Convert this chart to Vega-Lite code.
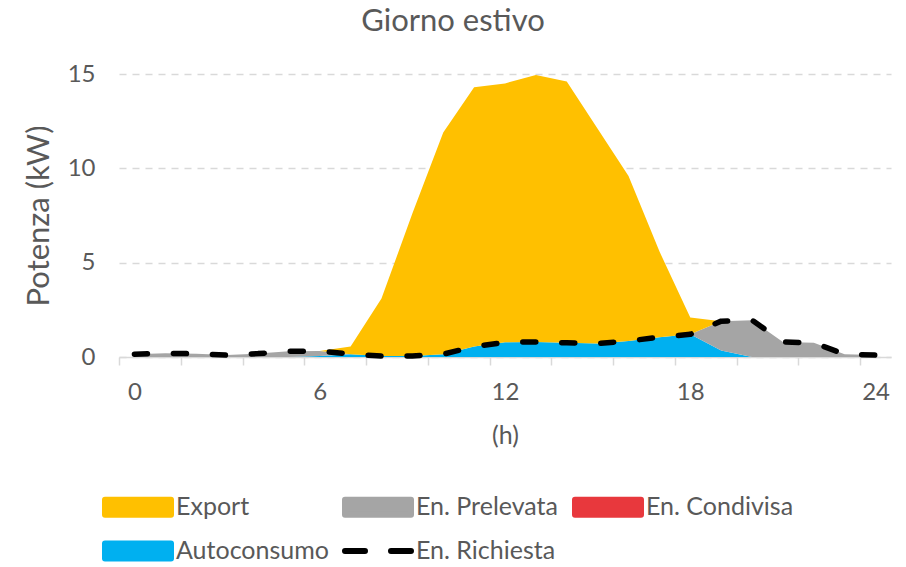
{
  "$schema": "https://vega.github.io/schema/vega-lite/v6.json",
  "width": 772,
  "height": 283,
  "autosize": {"type": "none"},
  "padding": {"left": 119, "top": 74, "right": 15, "bottom": 210},
  "background": "white",
  "title": {
    "text": "Giorno estivo",
    "font": "Lato",
    "fontSize": 31,
    "fontWeight": "normal",
    "color": "#595959",
    "anchor": "middle",
    "frame": "group",
    "dx": -52,
    "offset": 24
  },
  "config": {"view": {"stroke": null}},
  "datasets": {
    "aree": [
      {"ora": 0, "serie": "Autoconsumo", "kW": 0}, {"ora": 0, "serie": "En. Condivisa", "kW": 0}, {"ora": 0, "serie": "En. Prelevata", "kW": 0.15}, {"ora": 0, "serie": "Export", "kW": 0},
      {"ora": 1, "serie": "Autoconsumo", "kW": 0}, {"ora": 1, "serie": "En. Condivisa", "kW": 0}, {"ora": 1, "serie": "En. Prelevata", "kW": 0.2}, {"ora": 1, "serie": "Export", "kW": 0},
      {"ora": 2, "serie": "Autoconsumo", "kW": 0}, {"ora": 2, "serie": "En. Condivisa", "kW": 0}, {"ora": 2, "serie": "En. Prelevata", "kW": 0.17}, {"ora": 2, "serie": "Export", "kW": 0},
      {"ora": 3, "serie": "Autoconsumo", "kW": 0}, {"ora": 3, "serie": "En. Condivisa", "kW": 0}, {"ora": 3, "serie": "En. Prelevata", "kW": 0.1}, {"ora": 3, "serie": "Export", "kW": 0},
      {"ora": 4, "serie": "Autoconsumo", "kW": 0}, {"ora": 4, "serie": "En. Condivisa", "kW": 0}, {"ora": 4, "serie": "En. Prelevata", "kW": 0.18}, {"ora": 4, "serie": "Export", "kW": 0},
      {"ora": 5, "serie": "Autoconsumo", "kW": 0}, {"ora": 5, "serie": "En. Condivisa", "kW": 0}, {"ora": 5, "serie": "En. Prelevata", "kW": 0.3}, {"ora": 5, "serie": "Export", "kW": 0},
      {"ora": 6, "serie": "Autoconsumo", "kW": 0.05}, {"ora": 6, "serie": "En. Condivisa", "kW": 0}, {"ora": 6, "serie": "En. Prelevata", "kW": 0.27}, {"ora": 6, "serie": "Export", "kW": 0},
      {"ora": 7, "serie": "Autoconsumo", "kW": 0.15}, {"ora": 7, "serie": "En. Condivisa", "kW": 0}, {"ora": 7, "serie": "En. Prelevata", "kW": 0}, {"ora": 7, "serie": "Export", "kW": 0.4},
      {"ora": 8, "serie": "Autoconsumo", "kW": 0.05}, {"ora": 8, "serie": "En. Condivisa", "kW": 0}, {"ora": 8, "serie": "En. Prelevata", "kW": 0}, {"ora": 8, "serie": "Export", "kW": 3.05},
      {"ora": 9, "serie": "Autoconsumo", "kW": 0.05}, {"ora": 9, "serie": "En. Condivisa", "kW": 0}, {"ora": 9, "serie": "En. Prelevata", "kW": 0}, {"ora": 9, "serie": "Export", "kW": 7.55},
      {"ora": 10, "serie": "Autoconsumo", "kW": 0.15}, {"ora": 10, "serie": "En. Condivisa", "kW": 0}, {"ora": 10, "serie": "En. Prelevata", "kW": 0}, {"ora": 10, "serie": "Export", "kW": 11.75},
      {"ora": 11, "serie": "Autoconsumo", "kW": 0.55}, {"ora": 11, "serie": "En. Condivisa", "kW": 0}, {"ora": 11, "serie": "En. Prelevata", "kW": 0}, {"ora": 11, "serie": "Export", "kW": 13.75},
      {"ora": 12, "serie": "Autoconsumo", "kW": 0.78}, {"ora": 12, "serie": "En. Condivisa", "kW": 0}, {"ora": 12, "serie": "En. Prelevata", "kW": 0}, {"ora": 12, "serie": "Export", "kW": 13.72},
      {"ora": 13, "serie": "Autoconsumo", "kW": 0.8}, {"ora": 13, "serie": "En. Condivisa", "kW": 0}, {"ora": 13, "serie": "En. Prelevata", "kW": 0}, {"ora": 13, "serie": "Export", "kW": 14.15},
      {"ora": 14, "serie": "Autoconsumo", "kW": 0.75}, {"ora": 14, "serie": "En. Condivisa", "kW": 0}, {"ora": 14, "serie": "En. Prelevata", "kW": 0}, {"ora": 14, "serie": "Export", "kW": 13.85},
      {"ora": 15, "serie": "Autoconsumo", "kW": 0.72}, {"ora": 15, "serie": "En. Condivisa", "kW": 0}, {"ora": 15, "serie": "En. Prelevata", "kW": 0}, {"ora": 15, "serie": "Export", "kW": 11.38},
      {"ora": 16, "serie": "Autoconsumo", "kW": 0.85}, {"ora": 16, "serie": "En. Condivisa", "kW": 0}, {"ora": 16, "serie": "En. Prelevata", "kW": 0}, {"ora": 16, "serie": "Export", "kW": 8.75},
      {"ora": 17, "serie": "Autoconsumo", "kW": 1.05}, {"ora": 17, "serie": "En. Condivisa", "kW": 0}, {"ora": 17, "serie": "En. Prelevata", "kW": 0}, {"ora": 17, "serie": "Export", "kW": 4.55},
      {"ora": 18, "serie": "Autoconsumo", "kW": 1.2}, {"ora": 18, "serie": "En. Condivisa", "kW": 0}, {"ora": 18, "serie": "En. Prelevata", "kW": 0}, {"ora": 18, "serie": "Export", "kW": 0.9},
      {"ora": 19, "serie": "Autoconsumo", "kW": 0.35}, {"ora": 19, "serie": "En. Condivisa", "kW": 0}, {"ora": 19, "serie": "En. Prelevata", "kW": 1.55}, {"ora": 19, "serie": "Export", "kW": 0},
      {"ora": 20, "serie": "Autoconsumo", "kW": 0}, {"ora": 20, "serie": "En. Condivisa", "kW": 0}, {"ora": 20, "serie": "En. Prelevata", "kW": 1.95}, {"ora": 20, "serie": "Export", "kW": 0},
      {"ora": 21, "serie": "Autoconsumo", "kW": 0}, {"ora": 21, "serie": "En. Condivisa", "kW": 0}, {"ora": 21, "serie": "En. Prelevata", "kW": 0.8}, {"ora": 21, "serie": "Export", "kW": 0},
      {"ora": 22, "serie": "Autoconsumo", "kW": 0}, {"ora": 22, "serie": "En. Condivisa", "kW": 0}, {"ora": 22, "serie": "En. Prelevata", "kW": 0.75}, {"ora": 22, "serie": "Export", "kW": 0},
      {"ora": 23, "serie": "Autoconsumo", "kW": 0}, {"ora": 23, "serie": "En. Condivisa", "kW": 0}, {"ora": 23, "serie": "En. Prelevata", "kW": 0.15}, {"ora": 23, "serie": "Export", "kW": 0},
      {"ora": 24, "serie": "Autoconsumo", "kW": 0}, {"ora": 24, "serie": "En. Condivisa", "kW": 0}, {"ora": 24, "serie": "En. Prelevata", "kW": 0.1}, {"ora": 24, "serie": "Export", "kW": 0}
    ],
    "richiesta": [
      {"ora": 0, "serie": "En. Richiesta", "kW": 0.15}, {"ora": 1, "serie": "En. Richiesta", "kW": 0.2},
      {"ora": 2, "serie": "En. Richiesta", "kW": 0.17}, {"ora": 3, "serie": "En. Richiesta", "kW": 0.1},
      {"ora": 4, "serie": "En. Richiesta", "kW": 0.18}, {"ora": 5, "serie": "En. Richiesta", "kW": 0.3},
      {"ora": 6, "serie": "En. Richiesta", "kW": 0.32}, {"ora": 7, "serie": "En. Richiesta", "kW": 0.15},
      {"ora": 8, "serie": "En. Richiesta", "kW": 0.05}, {"ora": 9, "serie": "En. Richiesta", "kW": 0.05},
      {"ora": 10, "serie": "En. Richiesta", "kW": 0.15}, {"ora": 11, "serie": "En. Richiesta", "kW": 0.55},
      {"ora": 12, "serie": "En. Richiesta", "kW": 0.78}, {"ora": 13, "serie": "En. Richiesta", "kW": 0.8},
      {"ora": 14, "serie": "En. Richiesta", "kW": 0.75}, {"ora": 15, "serie": "En. Richiesta", "kW": 0.72},
      {"ora": 16, "serie": "En. Richiesta", "kW": 0.85}, {"ora": 17, "serie": "En. Richiesta", "kW": 1.05},
      {"ora": 18, "serie": "En. Richiesta", "kW": 1.2}, {"ora": 19, "serie": "En. Richiesta", "kW": 1.9},
      {"ora": 20, "serie": "En. Richiesta", "kW": 1.95}, {"ora": 21, "serie": "En. Richiesta", "kW": 0.8},
      {"ora": 22, "serie": "En. Richiesta", "kW": 0.75}, {"ora": 23, "serie": "En. Richiesta", "kW": 0.15},
      {"ora": 24, "serie": "En. Richiesta", "kW": 0.1}
    ]
  },
  "layer": [
    {
      "data": {"name": "aree"},
      "mark": {"type": "area", "interpolate": "linear"},
      "encoding": {
        "x": {
          "field": "ora",
          "type": "quantitative",
          "scale": {"domain": [-0.5, 24.5], "nice": false, "zero": false},
          "axis": {
            "values": [-0.5, 0.5, 1.5, 2.5, 3.5, 4.5, 5.5, 6.5, 7.5, 8.5, 9.5, 10.5, 11.5, 12.5, 13.5, 14.5, 15.5, 16.5, 17.5, 18.5, 19.5, 20.5, 21.5, 22.5, 23.5, 24.5],
            "labelExpr": "(datum.value + 0.5) % 6 === 0 && datum.value < 24 ? format(datum.value + 0.5, 'd') : ''",
            "labelOffset": 15.44,
            "labelOverlap": false,
            "labelFlush": false,
            "labelBound": false,
            "grid": false,
            "domainColor": "#D9D9D9",
            "domainWidth": 1.5,
            "tickColor": "#D9D9D9",
            "tickWidth": 1.5,
            "tickSize": 8,
            "labelPadding": 15,
            "labelFont": "Lato",
            "labelFontSize": 24,
            "labelColor": "#595959",
            "title": "(h)",
            "titleFont": "Lato",
            "titleFontSize": 25,
            "titleFontWeight": "normal",
            "titleColor": "#595959",
            "titlePadding": 19
          }
        },
        "y": {
          "field": "kW",
          "type": "quantitative",
          "stack": "zero",
          "scale": {"domain": [0, 15], "nice": false},
          "axis": {
            "values": [0, 5, 10, 15],
            "grid": true,
            "gridDash": [7, 6],
            "gridColor": "#D9D9D9",
            "gridWidth": 1.5,
            "domain": false,
            "ticks": false,
            "labelPadding": 24,
            "labelFlush": false,
            "labelFont": "Lato",
            "labelFontSize": 24,
            "labelColor": "#595959",
            "title": "Potenza (kW)",
            "titleFont": "Lato",
            "titleFontSize": 31,
            "titleFontWeight": "normal",
            "titleColor": "#595959",
            "titlePadding": 12
          }
        },
        "color": {
          "field": "serie",
          "type": "nominal",
          "scale": {
            "domain": ["Export", "En. Prelevata", "En. Condivisa", "Autoconsumo", "En. Richiesta"],
            "range": ["#FFC000", "#A5A5A5", "#E8383D", "#00B0F0", "#000000"]
          },
          "legend": {
            "orient": "none",
            "legendX": -14,
            "legendY": 420,
            "direction": "horizontal",
            "columns": 3,
            "title": null,
            "symbolSize": 400,
            "labelFont": "Lato",
            "labelFontSize": 25,
            "labelColor": "#595959",
            "labelLimit": 300,
            "columnPadding": 4,
            "rowPadding": 4,
            "encode": {
              "symbols": {
                "update": {
                  "x": {"value": 33},
                  "shape": {"signal": "datum.value === 'En. Richiesta' ? 'M-3.3,0H3.3' : 'M-3.3,-0.75H3.3V0.75H-3.3Z'"},
                  "fill": {"signal": "datum.value === 'En. Richiesta' ? 'transparent' : scale('color', datum.value)"},
                  "stroke": {"signal": "datum.value === 'En. Richiesta' ? '#000000' : 'transparent'"},
                  "strokeDash": {"signal": "datum.value === 'En. Richiesta' ? [20, 26] : [1, 0]"},
                  "strokeWidth": {"value": 6},
                  "strokeCap": {"value": "round"},
                  "size": {"value": 400},
                  "opacity": {"value": 1}
                }
              },
              "labels": {
                "update": {
                  "x": {"value": 71}
                }
              }
            }
          }
        },
        "order": {"field": "serie", "sort": "ascending"}
      }
    },
    {
      "data": {"name": "richiesta"},
      "mark": {"type": "line", "strokeDash": [13, 26], "strokeWidth": 5.5, "strokeCap": "round", "strokeJoin": "round"},
      "encoding": {
        "x": {"field": "ora", "type": "quantitative"},
        "y": {"field": "kW", "type": "quantitative"},
        "color": {"field": "serie", "type": "nominal"}
      }
    }
  ]
}
